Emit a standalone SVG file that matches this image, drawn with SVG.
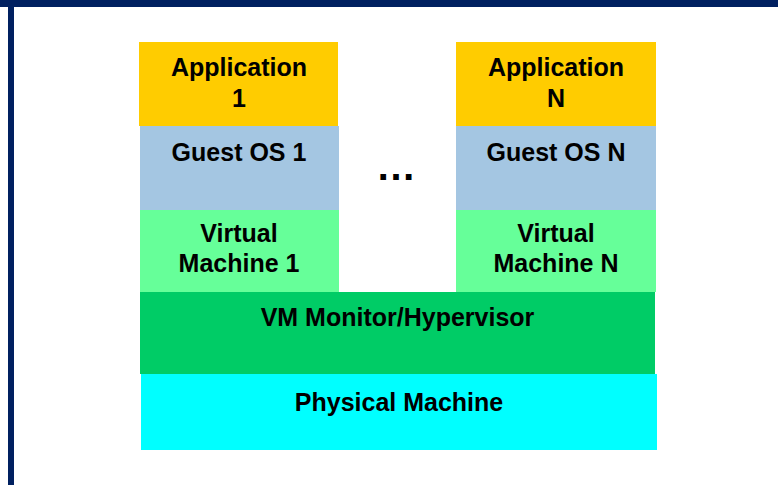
<svg xmlns="http://www.w3.org/2000/svg" width="778" height="485" viewBox="0 0 778 485">
  <style>
    .lbl { font-family: "Liberation Sans", Arial, sans-serif; font-weight: bold; font-size: 25px; fill: #000; text-anchor: middle; }
    .app { fill: #FFCC00; }
    .os { fill: #A4C6E2; }
    .vm { fill: #66FF99; }
    .hyp { fill: #00CC66; }
    .phy { fill: #00FFFF; }
  </style>
  <rect x="0" y="0" width="778" height="485" fill="#FFFFFF"/>
  <!-- slide frame -->
  <g id="frame" fill="#002060">
    <rect x="0" y="0" width="778" height="7"/>
    <rect x="8" y="0" width="6" height="485"/>
  </g>

  <!-- left stack -->
  <g id="app1">
    <rect class="app" x="139" y="42" width="199" height="84"/>
    <text class="lbl" x="239" y="76">Application</text>
    <text class="lbl" x="239" y="107">1</text>
  </g>
  <g id="guestos1">
    <rect class="os" x="140" y="126" width="199" height="84"/>
    <text class="lbl" x="239" y="161">Guest OS 1</text>
  </g>
  <g id="vm1">
    <rect class="vm" x="140" y="210" width="199" height="82"/>
    <text class="lbl" x="239" y="242">Virtual</text>
    <text class="lbl" x="239" y="272">Machine 1</text>
  </g>

  <!-- right stack -->
  <g id="appN">
    <rect class="app" x="456" y="42" width="200" height="84"/>
    <text class="lbl" x="556" y="76">Application</text>
    <text class="lbl" x="556" y="107">N</text>
  </g>
  <g id="guestosN">
    <rect class="os" x="456" y="126" width="200" height="84"/>
    <text class="lbl" x="556" y="161">Guest OS N</text>
  </g>
  <g id="vmN">
    <rect class="vm" x="456" y="210" width="200" height="82"/>
    <text class="lbl" x="556" y="242">Virtual</text>
    <text class="lbl" x="556" y="272">Machine N</text>
  </g>

  <g id="ellipsis">
    <text class="lbl" x="396" y="180" style="font-size:40px">…</text>
  </g>

  <!-- shared layers -->
  <g id="hypervisor">
    <rect class="hyp" x="140" y="292" width="515" height="82"/>
    <text class="lbl" x="397.5" y="326">VM Monitor/Hypervisor</text>
  </g>
  <g id="physical">
    <rect class="phy" x="141" y="374" width="516" height="76"/>
    <text class="lbl" x="399" y="411">Physical Machine</text>
  </g>
</svg>
